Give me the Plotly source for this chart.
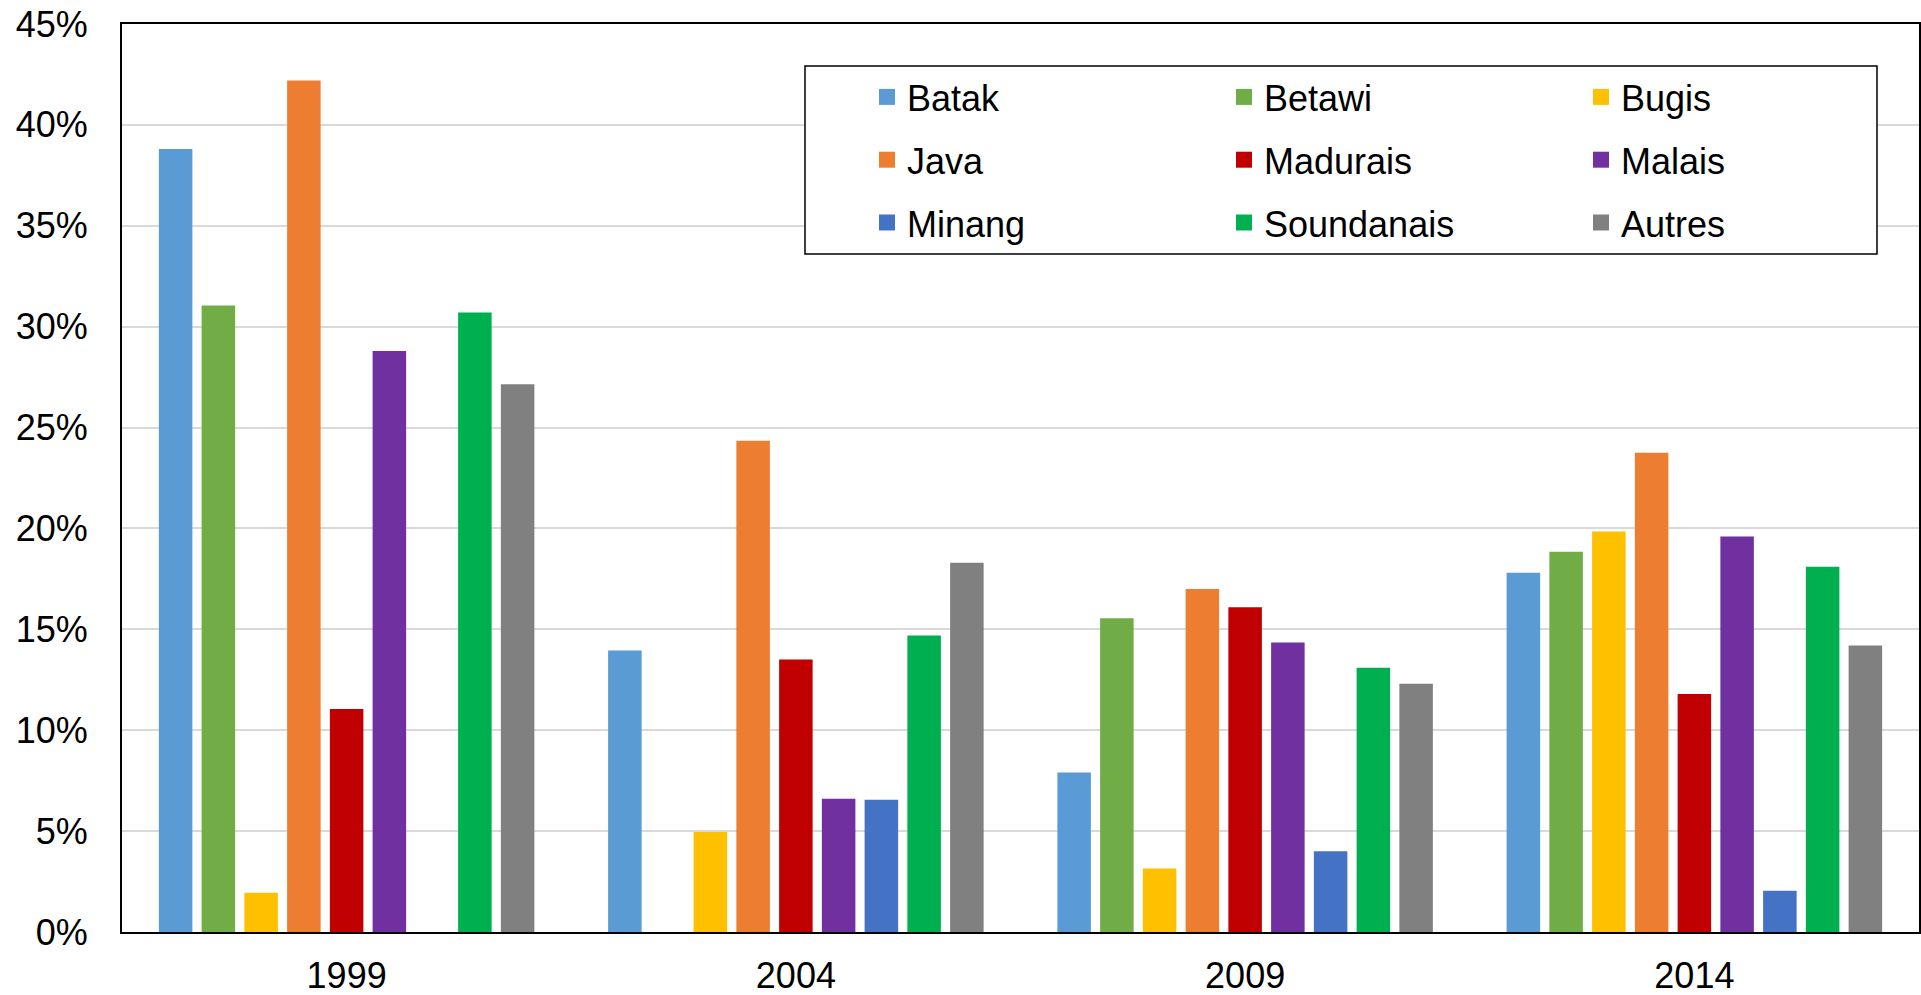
import plotly.graph_objects as go

years = ["1999", "2004", "2009", "2014"]

batak = [38.8, 13.95, 7.9, 17.8]
betawi = [31.05, None, 15.55, 18.85]
bugis = [1.95, 4.95, 3.15, 19.85]
java = [42.2, 24.35, 17.0, 23.75]
madurais = [11.05, 13.5, 16.1, 11.8]
malais = [28.8, 6.6, 14.35, 19.6]
minang = [None, 6.55, 4.0, 2.05]
soundanais = [30.7, 14.7, 13.1, 18.1]
autres = [27.15, 18.3, 12.3, 14.2]

series_names = ["Batak", "Betawi", "Bugis", "Java", "Madurais", "Malais",
                "Minang", "Soundanais", "Autres"]
series_values = [batak, betawi, bugis, java, madurais, malais,
                 minang, soundanais, autres]
colors = ["#5B9BD5", "#70AD47", "#FFC000", "#ED7D31", "#C00000", "#7030A0",
          "#4472C4", "#00B050", "#808080"]

y_ticks = [0, 5, 10, 15, 20, 25, 30, 35, 40, 45]
y_tick_labels = [f"{v}%" for v in y_ticks]

FONT = "Liberation Sans, Arial, sans-serif"

fig = go.Figure()

legend_ids = ["legend", "legend2", "legend3"]

for name, vals, col in zip(series_names, series_values, colors):
    fig.add_trace(go.Bar(
        x=years, y=vals, name=name, marker=dict(color=col, line=dict(width=0)),
        showlegend=False,
    ))

for i, (name, col) in enumerate(zip(series_names, colors)):
    fig.add_trace(go.Scatter(
        x=[None], y=[None], mode="markers", name=name,
        marker=dict(symbol="square", size=19, color=col),
        legend=legend_ids[i % 3], legendgroup=name, showlegend=True,
        hoverinfo="skip",
    ))

W, H = 1921, 995
ML, MR, MT, MB = 122, 2, 24, 63
pw = W - ML - MR
ph = H - MT - MB


def px_x(p):
    return (p - ML) / pw


def px_y(p):
    return 1 - (p - MT) / ph


leg_common = dict(
    font=dict(family=FONT, size=36, color="#000000"),
    bgcolor="rgba(0,0,0,0)", borderwidth=0,
    orientation="v", yanchor="top", xanchor="left",
    tracegroupgap=13, itemwidth=30, traceorder="grouped",
)
legend_x_px = [867, 1224, 1581]

layout_legends = {}
for lid, lx in zip(legend_ids, legend_x_px):
    layout_legends[lid] = dict(leg_common, x=px_x(lx), y=px_y(67))

fig.update_layout(
    width=W, height=H,
    margin=dict(l=ML, r=MR, t=MT, b=MB, pad=0, autoexpand=False),
    paper_bgcolor="white", plot_bgcolor="white",
    barmode="group", bargap=0.1436, bargroupgap=0.216,
    font=dict(family=FONT, size=36, color="#000000"),
    **layout_legends,
    shapes=[dict(
        type="rect", xref="paper", yref="paper",
        x0=px_x(805), x1=px_x(1877), y0=px_y(254), y1=px_y(66),
        line=dict(color="#000000", width=1.5), fillcolor="white", layer="above",
    )],
)

fig.update_xaxes(
    type="category", showline=True, mirror=True, linecolor="#000000", linewidth=2,
    showgrid=False, ticks="", ticklabelstandoff=11, automargin=False,
    tickfont=dict(family=FONT, size=36, color="#000000"),
)
fig.update_yaxes(
    range=[0, 45], tickmode="array", tickvals=y_ticks, ticktext=y_tick_labels,
    showline=True, mirror=True, linecolor="#000000", linewidth=2,
    showgrid=True, gridcolor="#D9D9D9", gridwidth=1.5, zeroline=False,
    ticks="", ticklabelstandoff=25, automargin=False,
    tickfont=dict(family=FONT, size=36, color="#000000"),
)

fig.write_html("out.html", config={"displayModeBar": False},
               post_script="document.body.style.margin='0';")
